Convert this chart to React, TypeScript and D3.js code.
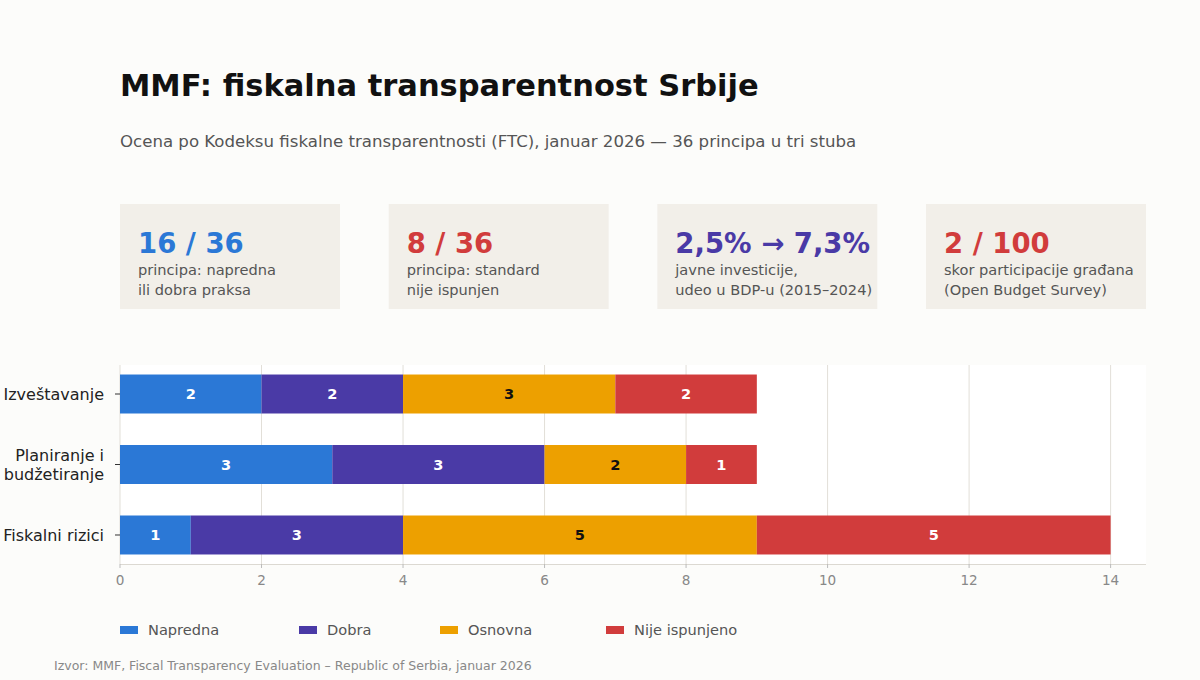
import React, { useEffect, useRef } from 'react'
import * as d3 from 'd3'

const pillars = ['Izveštavanje', 'Planiranje i\nbudžetiranje', 'Fiskalni rizici']
const levels = ['Napredna', 'Dobra', 'Osnovna', 'Nije ispunjeno']
const levelColors = ['#2b78d6', '#4a3aa6', '#eda000', '#d13c3c']
const labelColors = ['#ffffff', '#ffffff', '#111111', '#ffffff']
const napredna = [2, 3, 1]
const dobra = [2, 3, 3]
const osnovna = [3, 2, 5]
const nijeIspunjeno = [2, 1, 5]
const xTicks = [0, 2, 4, 6, 8, 10, 12, 14]

const cards = [
  { value: '16 / 36', color: '#2b78d6', lines: ['principa: napredna', 'ili dobra praksa'] },
  { value: '8 / 36', color: '#d13c3c', lines: ['principa: standard', 'nije ispunjen'] },
  { value: '2,5% → 7,3%', color: '#4a3aa6', lines: ['javne investicije,', 'udeo u BDP-u (2015–2024)'] },
  { value: '2 / 100', color: '#d13c3c', lines: ['skor participacije građana', '(Open Budget Survey)'] },
]

const FONT = '"DejaVu Sans", sans-serif'

export default function App() {
  const svgRef = useRef<SVGSVGElement>(null)

  useEffect(() => {
    document.body.style.margin = '0'
    if (!svgRef.current) return
    const svg = d3.select(svgRef.current)
    svg.selectAll('*').remove()

    svg.append('rect').attr('width', 1200).attr('height', 680).attr('fill', '#fcfcfa')

    // title + subtitle
    svg.append('text')
      .attr('x', 120).attr('y', 96)
      .style('font-family', FONT).style('font-size', '30.5px').style('font-weight', 'bold')
      .attr('fill', '#111')
      .text('MMF: fiskalna transparentnost Srbije')

    svg.append('text')
      .attr('x', 120).attr('y', 147)
      .style('font-family', FONT).style('font-size', '16.6px')
      .attr('fill', '#555')
      .text('Ocena po Kodeksu fiskalne transparentnosti (FTC), januar 2026 — 36 principa u tri stuba')

    // KPI cards
    const cardX = d3.scaleBand<number>().domain(d3.range(cards.length)).range([120, 1146]).paddingInner(0.181)
    cards.forEach((c, i) => {
      const g = svg.append('g').attr('transform', `translate(${cardX(i)},204)`)
      g.append('rect').attr('width', cardX.bandwidth()).attr('height', 105).attr('fill', '#f2efe9')
      g.append('text')
        .attr('x', 18).attr('y', 48.5)
        .style('font-family', FONT).style('font-size', '27.5px').style('font-weight', 'bold')
        .attr('fill', c.color)
        .text(c.value)
      c.lines.forEach((l, j) => {
        g.append('text')
          .attr('x', 18).attr('y', 70.5 + j * 20)
          .style('font-family', FONT).style('font-size', '14.6px')
          .attr('fill', '#555')
          .text(l)
      })
    })

    // bar chart
    const left = 120, right = 1146, top = 365, bottom = 564
    const x = d3.scaleLinear().domain([0, 14.5]).range([left, right])
    const y = d3.scaleBand<number>().domain(d3.range(pillars.length)).range([top, bottom])
      .paddingInner(0.447).paddingOuter(0.135)

    svg.append('rect').attr('x', left).attr('y', top).attr('width', right - left).attr('height', bottom - top).attr('fill', '#ffffff')

    svg.append('g').selectAll('line').data(xTicks).enter().append('line')
      .attr('x1', d => x(d)).attr('x2', d => x(d))
      .attr('y1', top).attr('y2', bottom)
      .attr('stroke', '#e2dfd8').attr('stroke-width', 1)

    const series = [napredna, dobra, osnovna, nijeIspunjeno]
    const rows = pillars.map((p, i) => {
      const obj: any = { pillar: i }
      levels.forEach((lv, k) => { obj[lv] = series[k][i] })
      return obj
    })
    const stacked = d3.stack<any>().keys(levels)(rows)

    stacked.forEach((layer, k) => {
      const g = svg.append('g')
      g.selectAll('rect').data(layer).enter().append('rect')
        .attr('x', d => x(d[0]))
        .attr('width', d => x(d[1]) - x(d[0]))
        .attr('y', (d, i) => y(i)!)
        .attr('height', y.bandwidth())
        .attr('fill', levelColors[k])
      g.selectAll('text').data(layer).enter().append('text')
        .attr('x', d => (x(d[0]) + x(d[1])) / 2)
        .attr('y', (d, i) => y(i)! + y.bandwidth() / 2)
        .attr('dy', '0.36em')
        .attr('text-anchor', 'middle')
        .style('font-family', FONT).style('font-size', '14.6px').style('font-weight', 'bold')
        .attr('fill', labelColors[k])
        .text(d => String(d[1] - d[0]))
    })

    // x axis
    svg.append('line').attr('x1', left).attr('x2', right).attr('y1', bottom + 0.5).attr('y2', bottom + 0.5)
      .attr('stroke', '#dcd9d2')
    svg.append('g').selectAll('line').data(xTicks).enter().append('line')
      .attr('x1', d => x(d)).attr('x2', d => x(d)).attr('y1', bottom).attr('y2', bottom + 4)
      .attr('stroke', '#bbb')
    svg.append('g').selectAll('text').data(xTicks).enter().append('text')
      .attr('x', d => x(d)).attr('y', 585)
      .attr('text-anchor', 'middle')
      .style('font-family', FONT).style('font-size', '13.6px')
      .attr('fill', '#888')
      .text(d => String(d))

    // y axis labels
    pillars.forEach((p, i) => {
      const cy = y(i)! + y.bandwidth() / 2
      svg.append('line').attr('x1', left - 5).attr('x2', left).attr('y1', cy).attr('y2', cy).attr('stroke', '#333')
      const parts = p.split('\n')
      const t = svg.append('text')
        .attr('text-anchor', 'end')
        .style('font-family', FONT).style('font-size', '16px')
        .attr('fill', '#222')
      parts.forEach((line, j) => {
        t.append('tspan')
          .attr('x', 104)
          .attr('y', cy + (j - (parts.length - 1) / 2) * 19)
          .attr('dy', '0.36em')
          .text(line)
      })
    })

    // legend
    const legendX = [120, 299, 440, 606]
    levels.forEach((lv, k) => {
      svg.append('rect').attr('x', legendX[k]).attr('y', 626).attr('width', 18).attr('height', 8).attr('fill', levelColors[k])
      svg.append('text')
        .attr('x', legendX[k] + 28).attr('y', 630).attr('dy', '0.36em')
        .style('font-family', FONT).style('font-size', '14.6px')
        .attr('fill', '#555')
        .text(lv)
    })

    svg.append('text')
      .attr('x', 54).attr('y', 670)
      .style('font-family', FONT).style('font-size', '12.5px')
      .attr('fill', '#888')
      .text('Izvor: MMF, Fiscal Transparency Evaluation – Republic of Serbia, januar 2026')
  }, [])

  return <svg ref={svgRef} width={1200} height={680} style={{ display: 'block' }} />
}
